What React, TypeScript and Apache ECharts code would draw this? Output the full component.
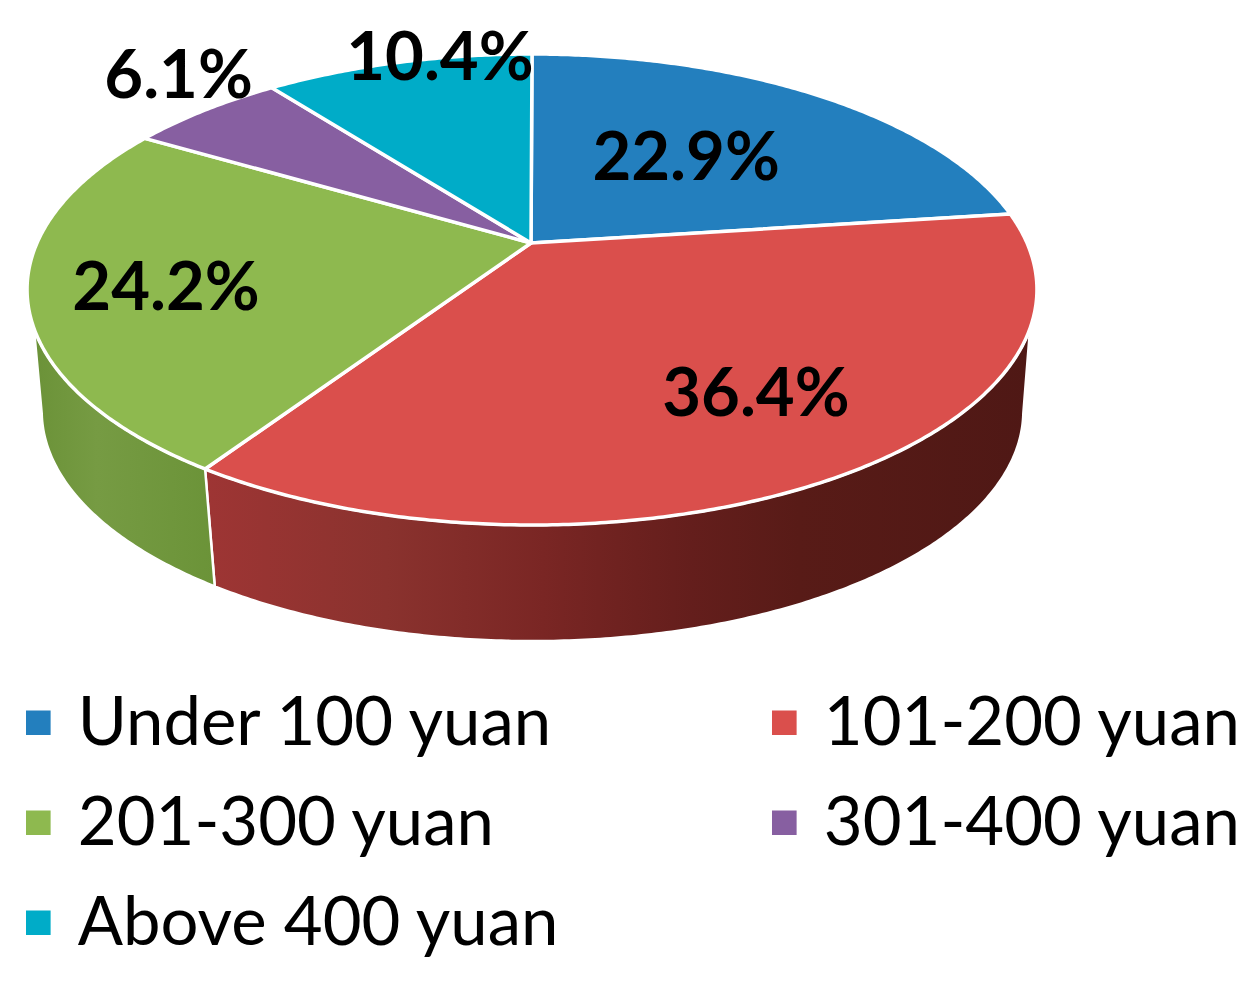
import React, { useEffect, useRef } from "react";
import * as echarts from "echarts";

// ---- data -------------------------------------------------------------
const categories = ["Under 100 yuan", "101-200 yuan", "201-300 yuan", "301-400 yuan", "Above 400 yuan"];
const shares = [22.9, 36.4, 24.2, 6.1, 10.4];
const labels = ["22.9%", "36.4%", "24.2%", "6.1%", "10.4%"];
const sliceColors = ["#237fbe", "#da4f4c", "#8eb94f", "#875fa1", "#00acc8"];
const legendLeftColumn = [categories[0], categories[2], categories[4]];
const legendRightColumn = [categories[1], categories[3]];

// ---- styling / geometry of the tilted disc ------------------------------
const FONT = "Lato";
const APEX_X = 531;
const APEX_Y = 243;
const RIM_X = 532;
const SCALE_X = 495;
const SCALE_Y = 226.3;
const TILT = -0.1975;
const TOP_CX = 532.5;
const TOP_CY = 290;
const BASE_CX = 533;
const BASE_CY = 411.5;
const BASE_SX = 0.972;
const BASE_SY = 0.977;
const WALL_FROM = 110.5;
const WALL_TO = 249.5;
const BASE_FROM = 102;
const BASE_TO = 258;
const labelRadius = [0.533, 0.708, 0.734, 1.209, 1.011];
const labelShift = [[-6, -5], [14, -7], [1, 2], [34, -14], [44, -7]];
const wallStops: Record<number, [number, string][]> = {
  1: [[0, "#9e3534"], [0.22, "#8a322e"], [0.41, "#7a2624"], [0.59, "#641e1c"], [0.72, "#581b17"], [1, "#4f1815"]],
  2: [[0, "#6b9238"], [0.35, "#769b43"], [1, "#6b9338"]],
};

const total = shares.reduce((a, b) => a + b, 0);
const startAngle = (i: number) => (shares.slice(0, i).reduce((a, b) => a + b, 0) / total) * 360;

function project(deg: number, r = 1): [number, number] {
  const t = (deg * Math.PI) / 180;
  const u = r * Math.sin(t);
  const v = -r * Math.cos(t);
  const d = 1 + TILT * v;
  return [(r === 1 ? RIM_X : APEX_X) + (SCALE_X * u) / d, APEX_Y + (SCALE_Y * v) / d];
}

function toBase([x, y]: [number, number]): [number, number] {
  return [BASE_CX + (x - TOP_CX) * BASE_SX, BASE_CY + (y - TOP_CY) * BASE_SY];
}

function arc(from: number, to: number): [number, number][] {
  const n = Math.max(2, Math.ceil((to - from) * 2));
  const pts: [number, number][] = [];
  for (let k = 0; k <= n; k++) pts.push(project(from + ((to - from) * k) / n));
  return pts;
}

function makeRender(i: number) {
  return () => {
    const a0 = startAngle(i);
    const a1 = a0 + (shares[i] / total) * 360;
    const children: any[] = [];
    const wFrom = Math.max(a0, WALL_FROM);
    const wTo = Math.min(a1, WALL_TO);
    if (wTo > wFrom) {
      const rim = arc(wFrom, wTo);
      const bFrom = a0 <= WALL_FROM ? BASE_FROM : wFrom;
      const bTo = a1 >= WALL_TO ? BASE_TO : wTo;
      const base = arc(bFrom, bTo).map(toBase).reverse();
      const stops = wallStops[i] ?? [[0, sliceColors[i]], [1, sliceColors[i]]];
      children.push({
        type: "polygon",
        shape: { points: [...rim, ...base] },
        style: {
          fill: new echarts.graphic.LinearGradient(0, 0, 1, 0, stops.map(([offset, color]) => ({ offset, color }))),
          stroke: "#ffffff",
          lineWidth: 2.5,
        },
        z2: 1,
      });
    }
    children.push({
      type: "polygon",
      shape: { points: [[APEX_X, APEX_Y], ...arc(a0, a1)] },
      style: { fill: sliceColors[i], stroke: "#ffffff", lineWidth: 3.5, lineJoin: "round" },
      z2: 2,
    });
    const [lx, ly] = project((a0 + a1) / 2, labelRadius[i]);
    children.push({
      type: "text",
      x: lx + labelShift[i][0],
      y: ly + labelShift[i][1],
      style: {
        text: labels[i],
        fill: "#000000",
        font: `bold 67px ${FONT}`,
        align: "center",
        verticalAlign: "middle",
      },
      z2: 10,
    });
    return { type: "group", children };
  };
}

const legendBase = {
  orient: "vertical" as const,
  top: 680,
  itemWidth: 69,
  itemHeight: 32,
  itemGap: 32,
  icon: "path://M0 0h0.01v0.01h-0.01zM0 3h10v10h-10z",
  selectedMode: false,
  textStyle: { fontFamily: FONT, fontSize: 67, lineHeight: 60, padding: [0, 0, 8, 0], color: "#000000" },
};

export default function App() {
  const ref = useRef<HTMLDivElement>(null);
  useEffect(() => {
    document.body.style.margin = "0";
    const chart = echarts.init(ref.current!, undefined, { renderer: "svg" });
    chart.setOption({
      animation: false,
      backgroundColor: "#ffffff",
      legend: [
        { ...legendBase, left: 21, data: legendLeftColumn },
        { ...legendBase, left: 767, data: legendRightColumn },
      ],
      series: categories.map((name, i) => ({
        type: "custom",
        name,
        coordinateSystem: "none",
        silent: true,
        itemStyle: { color: sliceColors[i] },
        data: [shares[i]],
        renderItem: makeRender(i),
      })),
    });
    return () => chart.dispose();
  }, []);
  return <div ref={ref} style={{ position: "absolute", left: 0, top: 0, width: 1250, height: 984 }} />;
}
